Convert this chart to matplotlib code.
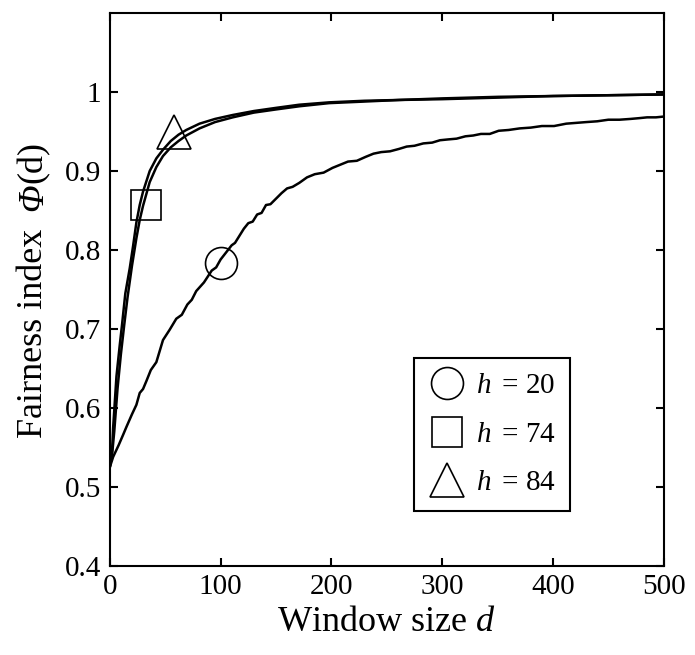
import numpy as np
import matplotlib
matplotlib.use("Agg")
import matplotlib.pyplot as plt

plt.rcParams['font.family'] = ['Liberation Serif', 'DejaVu Serif']
plt.rcParams['mathtext.fontset'] = 'custom'
plt.rcParams['mathtext.rm'] = 'Liberation Serif'
plt.rcParams['mathtext.it'] = 'Liberation Serif:italic'

# ── data ────────────────────────────────────────────────────────────
d_h20 = [0, 3, 8, 12, 15, 20, 24, 27, 30, 33, 37, 42, 45, 48, 54, 60, 65, 70,
         74, 78, 85, 92, 96, 100, 105, 110, 113, 117, 121, 125, 129, 133, 137,
         141, 145, 150, 155, 160, 165, 171, 178, 185, 193, 201, 208, 215, 223,
         231, 238, 245, 253, 261, 268, 275, 283, 291, 298, 305, 313, 321, 328,
         335, 343, 351, 360, 370, 380, 390, 401, 412, 421, 430, 440, 450, 460,
         470, 478, 485, 493, 500]
phi_h20 = [0.525, 0.538, 0.553, 0.566, 0.576, 0.592, 0.604, 0.619, 0.624, 0.634,
           0.648, 0.658, 0.672, 0.686, 0.699, 0.713, 0.718, 0.731, 0.737, 0.748,
           0.759, 0.774, 0.778, 0.788, 0.797, 0.806, 0.809, 0.818, 0.827, 0.834,
           0.836, 0.845, 0.847, 0.857, 0.858, 0.865, 0.872, 0.878, 0.880, 0.885,
           0.892, 0.896, 0.898, 0.904, 0.908, 0.912, 0.913, 0.918, 0.922, 0.924,
           0.925, 0.928, 0.931, 0.932, 0.935, 0.936, 0.939, 0.940, 0.941, 0.944,
           0.945, 0.947, 0.947, 0.951, 0.952, 0.954, 0.955, 0.957, 0.957, 0.960,
           0.961, 0.962, 0.963, 0.965, 0.965, 0.966, 0.967, 0.968, 0.968, 0.969]

d_h74 = [0, 2, 4, 7, 10, 13, 16, 20, 24, 27, 30, 36, 42, 48, 55, 62, 69, 81, 95,
         111, 130, 150, 171, 198, 230, 261, 300, 351, 400, 450, 500]
phi_h74 = [0.525, 0.540, 0.570, 0.625, 0.668, 0.705, 0.740, 0.780, 0.815, 0.838,
           0.856, 0.886, 0.905, 0.919, 0.930, 0.938, 0.945, 0.954, 0.962, 0.968,
           0.974, 0.978, 0.982, 0.986, 0.988, 0.990, 0.991, 0.993, 0.995, 0.996,
           0.997]

d_h84 = [0, 2, 3, 6, 9, 11, 14, 18, 21, 24, 27, 30, 36, 42, 48, 55, 62, 69, 81,
         95, 111, 130, 150, 171, 198, 230, 261, 300, 351, 400, 450, 500]
phi_h84 = [0.525, 0.545, 0.575, 0.640, 0.680, 0.705, 0.745, 0.777, 0.805, 0.835,
           0.857, 0.874, 0.900, 0.916, 0.927, 0.938, 0.946, 0.952, 0.960, 0.966,
           0.971, 0.976, 0.980, 0.984, 0.987, 0.989, 0.990, 0.992, 0.994, 0.995,
           0.996, 0.997]

# one open marker per curve, used as the key
labels = [r'$h\,$ = 20', r'$h\,$ = 74', r'$h\,$ = 84']
markers = ['o', 's', '^']
marker_d = [100, 33, 58]
marker_phi = [0.783, 0.857, 0.950]
marker_sizes = [23, 21, 25]

# ── figure ──────────────────────────────────────────────────────────
fig = plt.figure(figsize=(6.95, 6.55), dpi=100)
ax = fig.add_axes([0.158, 0.136, 0.797, 0.844])

for d, phi in [(d_h20, phi_h20), (d_h74, phi_h74), (d_h84, phi_h84)]:
    ax.plot(d, phi, color='black', linewidth=1.8)

for m, x, y, ms, lab in zip(markers, marker_d, marker_phi, marker_sizes, labels):
    ax.plot([x], [y], linestyle='none', marker=m, markersize=ms,
            markerfacecolor='none', markeredgecolor='black',
            markeredgewidth=1.2, label=lab)

ax.set_xlim(0, 500)
ax.set_ylim(0.4, 1.1)
ax.set_xticks([0, 100, 200, 300, 400, 500])
ax.set_yticks([0.4, 0.5, 0.6, 0.7, 0.8, 0.9, 1.0])
ax.set_yticklabels(['0.4', '0.5', '0.6', '0.7', '0.8', '0.9', '1'])
ax.tick_params(direction='in', length=6, width=1.5, labelsize=21,
               top=True, right=True, pad=6)
for s in ax.spines.values():
    s.set_linewidth(1.5)

ax.set_xlabel('Window size $d$', fontsize=26, labelpad=4)

leg = ax.legend(loc='lower left', bbox_to_anchor=(0.55, 0.10), borderaxespad=0,
                fontsize=21, frameon=True, fancybox=False, framealpha=1,
                edgecolor='black', labelspacing=0.75, handlelength=1.2,
                handletextpad=0.4, borderpad=0.5)
leg.get_frame().set_linewidth(1.5)

# y label in pieces so that the Phi can be italic (mathtext keeps Greek capitals upright)
pieces = [('Fairness index  ', 'normal'), ('Φ', 'italic'), ('(d)', 'normal')]
renderer = fig.canvas.get_renderer()
x_lab = 0.048
texts = []
for txt, st in pieces:
    texts.append(fig.text(x_lab, 0, txt, rotation=90, rotation_mode='anchor',
                          ha='left', va='center', fontsize=26, style=st))
lengths = [t.get_window_extent(renderer).height / fig.bbox.height for t in texts]
y_mid = 0.136 + 0.844 / 2
y0 = y_mid - sum(lengths) / 2
for t, L in zip(texts, lengths):
    t.set_y(y0)
    y0 += L

fig.savefig('out.png', dpi=100)
